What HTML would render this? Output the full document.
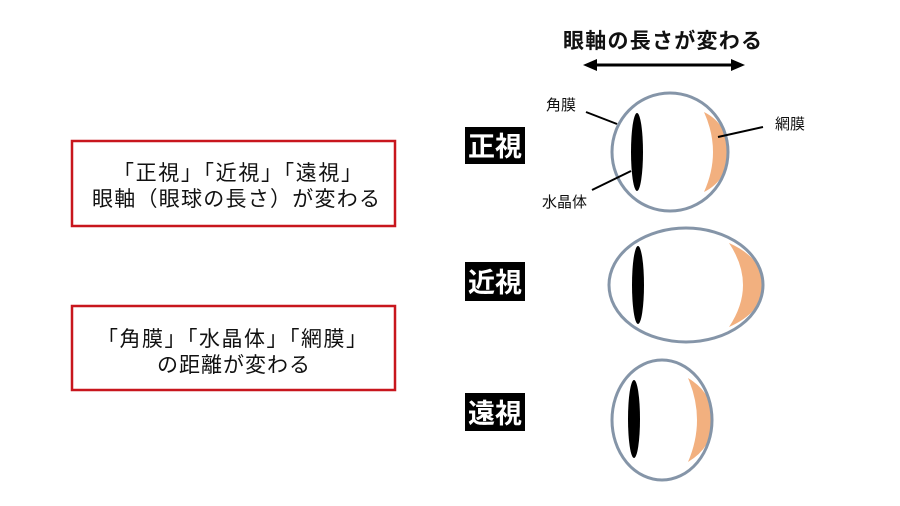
<!DOCTYPE html>
<html><head><meta charset="utf-8"><style>
html,body{margin:0;padding:0;background:#fff;}
svg{display:block;}
text{font-family:"Liberation Sans","Noto Sans CJK JP",sans-serif;}
</style></head><body>
<svg width="900" height="506" viewBox="0 0 900 506" xmlns="http://www.w3.org/2000/svg">
<rect width="900" height="506" fill="#fff"/>
<!-- left boxes -->
<rect x="72" y="141" width="323" height="85" fill="none" stroke="#c8161d" stroke-width="2.5"/>
<text x="113" y="180" font-size="21" textLength="249" lengthAdjust="spacing" fill="#111">「正視」「近視」「遠視」</text>
<text x="92" y="206" font-size="21" textLength="288" lengthAdjust="spacing" fill="#111">眼軸（眼球の長さ）が変わる</text>
<rect x="72" y="306" width="323" height="84" fill="none" stroke="#c8161d" stroke-width="2.5"/>
<text x="97" y="346" font-size="21" textLength="270" lengthAdjust="spacing" fill="#111">「角膜」「水晶体」「網膜」</text>
<text x="157" y="372" font-size="21" textLength="153" lengthAdjust="spacing" fill="#111">の距離が変わる</text>
<!-- header -->
<text x="563" y="48" font-size="21" font-weight="bold" textLength="199" lengthAdjust="spacing" fill="#111">眼軸の長さが変わる</text>
<line x1="594" y1="65" x2="734" y2="65" stroke="#000" stroke-width="3"/>
<polygon points="583,65 597,59 597,71" fill="#000"/>
<polygon points="745,65 731,59 731,71" fill="#000"/>
<!-- label boxes -->
<rect x="465" y="127" width="60" height="37" fill="#000"/>
<text x="495" y="156" font-size="27" font-weight="bold" text-anchor="middle" fill="#fff">正視</text>
<rect x="465" y="262" width="60" height="39" fill="#000"/>
<text x="495" y="292" font-size="27" font-weight="bold" text-anchor="middle" fill="#fff">近視</text>
<rect x="465" y="393" width="60" height="38" fill="#000"/>
<text x="495" y="423" font-size="27" font-weight="bold" text-anchor="middle" fill="#fff">遠視</text>
<!-- eye 1 -->
<path d="M704,112 Q722,152 704,192 Q728,180 728,152 Q728,124 704,112 Z" fill="#f2b07f"/>
<ellipse cx="670" cy="152" rx="58" ry="59" fill="none" stroke="#8595a8" stroke-width="3"/>
<ellipse cx="637" cy="152" rx="6" ry="39" fill="#000"/>
<!-- eye 2 -->
<path d="M729,243 Q757,285 729,327 Q763,312 763,285 Q763,258 729,243 Z" fill="#f2b07f"/>
<ellipse cx="686" cy="285" rx="77" ry="57" fill="none" stroke="#8595a8" stroke-width="3"/>
<ellipse cx="638" cy="285" rx="6" ry="39" fill="#000"/>
<!-- eye 3 -->
<path d="M688,378 Q706,420 688,462 Q713,447 713,420 Q713,393 688,378 Z" fill="#f2b07f"/>
<ellipse cx="662" cy="420" rx="50" ry="60" fill="none" stroke="#8595a8" stroke-width="3"/>
<ellipse cx="634" cy="419" rx="6" ry="39" fill="#000"/>
<!-- leaders -->
<line x1="586" y1="112" x2="617" y2="124" stroke="#000" stroke-width="2"/>
<line x1="763" y1="127" x2="718" y2="137" stroke="#000" stroke-width="2"/>
<line x1="592" y1="190" x2="631" y2="171" stroke="#000" stroke-width="2"/>
<text x="546" y="110" font-size="15" fill="#111">角膜</text>
<text x="775" y="129" font-size="15" fill="#111">網膜</text>
<text x="542" y="207" font-size="15" fill="#111">水晶体</text>
</svg>
</body></html>
